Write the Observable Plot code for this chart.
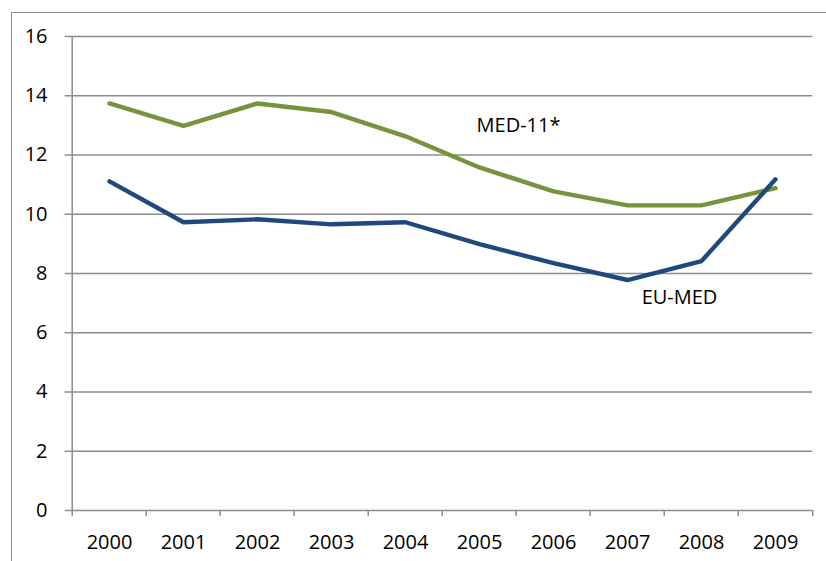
<!DOCTYPE html>
<html>
<head>
<meta charset="utf-8">
<script src="https://cdn.jsdelivr.net/npm/d3@7"></script>
<script src="https://cdn.jsdelivr.net/npm/@observablehq/plot@0.6"></script>
<style>
  html, body { margin: 0; padding: 0; background: #fff; overflow: hidden; }
  #wrap { position: relative; width: 826px; height: 561px; }
  #frame { position: absolute; left: 11px; top: 12px; width: 830px; height: 560px; border: 1.5px solid #8c8c8c; box-sizing: border-box; }
  #chart { position: absolute; left: 0; top: 0; }
</style>
</head>
<body>
<div id="wrap"><div id="frame"></div><div id="chart"></div></div>
<script>
const years = ["2000","2001","2002","2003","2004","2005","2006","2007","2008","2009"];
const med11 = [13.74, 12.98, 13.74, 13.45, 12.63, 11.58, 10.77, 10.30, 10.30, 10.88];
const euMed = [11.11, 9.73, 9.83, 9.66, 9.73, 8.99, 8.35, 7.78, 8.42, 11.18];
const yTicks = [0, 2, 4, 6, 8, 10, 12, 14, 16];
const seriesNames = ["MED-11*", "EU-MED"];
const seriesColors = ["#77933C", "#1F497D"];
const labels = [
  {text: "MED-11*", x: "2005", y: 13.0},
  {text: "EU-MED", x: "2007", y: 7.2}
];

const rows = [];
years.forEach((yr, i) => {
  rows.push({year: yr, value: med11[i], series: seriesNames[0]});
  rows.push({year: yr, value: euMed[i], series: seriesNames[1]});
});

const W = 826, H = 561;
const mL = 69, mR = 11, mT = 36, mB = 51;
const step = (W - mL - mR) / years.length;
const firstYear = years[0], lastYear = years[years.length - 1];

const font = "'Open Sans', sans-serif";
const grid = "#8c8c8c";

const chart = Plot.plot({
  width: W,
  height: H,
  marginLeft: mL,
  marginRight: mR,
  marginTop: mT,
  marginBottom: mB,
  style: {fontFamily: font, fontSize: "20px", color: "#000", background: "transparent", overflow: "visible"},
  x: {type: "point", domain: years, padding: 0.5, label: null},
  y: {domain: [0, 16], label: null},
  color: {domain: seriesNames, range: seriesColors},
  marks: [
    Plot.ruleY(yTicks, {y: d => d, x1: () => firstYear, x2: () => lastYear, stroke: grid, strokeWidth: 1.5, insetLeft: -step / 2 - 7, insetRight: -step / 2}),
    Plot.ruleX([firstYear], {x: d => d, dx: -step / 2, y1: () => -0.2, y2: () => 16, stroke: grid, strokeWidth: 1.5}),
    Plot.ruleX(years.slice(1), {x: d => d, dx: -step / 2, y1: () => -0.2, y2: () => 0, stroke: grid, strokeWidth: 1.5}),
    Plot.ruleX([lastYear], {x: d => d, dx: step / 2, y1: () => -0.2, y2: () => 0, stroke: grid, strokeWidth: 1.5}),
    Plot.axisY({ticks: yTicks, tickSize: 0, tickPadding: 22, fontSize: 20}),
    Plot.axisX({tickSize: 0, tickPadding: 24, fontSize: 20}),
    Plot.line(rows, {x: "year", y: "value", stroke: "series", strokeWidth: 4.4, strokeLinejoin: "miter", strokeLinecap: "round"}),
    Plot.text(labels.slice(0, 1), {x: "x", y: "y", text: "text", dx: 39, fontSize: 20, fill: "#000"}),
    Plot.text(labels.slice(1), {x: "x", y: "y", text: "text", dx: 52, fontSize: 20, fill: "#000"})
  ]
});
document.getElementById("chart").appendChild(chart);
</script>
</body>
</html>
